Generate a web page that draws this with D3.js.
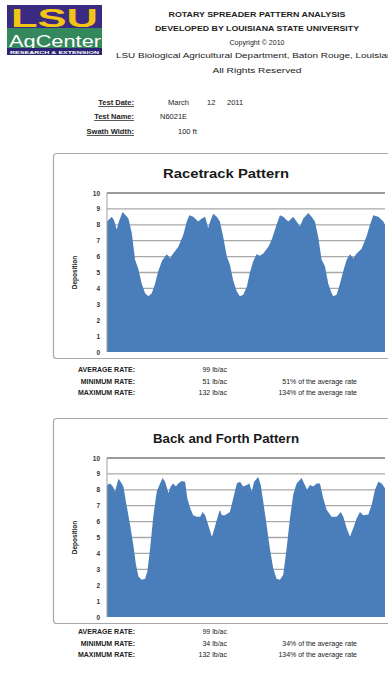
<!DOCTYPE html>
<html><head><meta charset="utf-8">
<script src="https://cdn.jsdelivr.net/npm/d3@7"></script>
<style>
html,body{margin:0;padding:0;background:#fff;}
svg{display:block;}
text{font-family:"Liberation Sans",Arial,sans-serif;}
</style></head>
<body>
<svg id="c" width="388" height="673"></svg>
<script>
// ---------------- data ----------------
const headerLines = [
  "ROTARY SPREADER PATTERN ANALYSIS",
  "DEVELOPED BY LOUISIANA STATE UNIVERSITY",
  "Copyright \u00A9 2010",
  "LSU Biological Agricultural Department, Baton Rouge, Louisiana",
  "All Rights Reserved"
];
const infoLabels = ["Test Date:", "Test Name:", "Swath Width:"];
const testDate = ["March", "12", "2011"];
const testName = "N6021E";
const swathWidth = "100 ft";

const yTicks = [0,1,2,3,4,5,6,7,8,9,10];
const rateLabels = ["AVERAGE RATE:", "MINIMUM RATE:", "MAXIMUM RATE:"];

// Racetrack pattern (position across plot 0-100, deposition)
const raceTitle = "Racetrack Pattern";
const racePos = [0,1.7,2.5,3.5,4.3,5.6,6.7,7.7,8.9,10.1,11.3,12.5,13.7,14.9,16.1,17.3,18.3,19.7,20.9,21.5,22.7,23.8,25.6,27.4,28.7,29.6,31.0,32.8,34.1,35.3,36.4,37.1,38.2,39.5,40.6,41.8,43.1,44.2,45.4,46.7,47.8,49.0,50.3,51.4,52.6,53.8,55.0,56.2,58.0,59.2,61.0,62.2,63.4,65.2,67.0,68.2,69.4,70.6,72.4,73.6,74.8,76.0,77.2,78.4,79.6,80.8,81.4,82.6,83.8,85.0,86.2,87.4,88.6,89.8,91.6,93.4,94.6,95.8,97.6,99.4,100];
const raceDep = [8.2,8.5,8.3,7.7,8.2,8.8,8.6,8.4,7.5,5.8,5.2,4.3,3.7,3.5,3.7,4.3,5.0,5.7,6.0,6.15,5.9,6.2,6.6,7.35,8.2,8.6,8.5,8.2,8.4,8.5,7.8,8.2,8.7,8.5,8.2,7.25,6.0,5.5,4.5,3.8,3.5,3.6,4.1,5.0,5.7,6.15,6.05,6.2,6.6,7.05,8.0,8.6,8.5,8.2,8.5,8.2,7.9,8.4,8.75,8.5,8.2,7.2,5.8,5.4,4.3,3.7,3.5,3.6,4.3,5.1,5.8,6.15,5.9,6.2,6.5,7.3,8.0,8.6,8.5,8.2,8.0];
const raceRates = ["99 lb/ac", "51 lb/ac", "132 lb/ac"];
const racePct = ["", "51% of the average rate", "134% of the average rate"];

// Back and forth pattern
const bfTitle = "Back and Forth Pattern";
const bfPos = [0,1.1,2.1,2.9,4.1,4.9,5.9,6.8,8.3,9.5,10.4,11.3,12.5,13.7,14.5,15.5,16.7,17.9,19.1,20.0,20.9,22.1,22.9,23.8,24.8,25.6,26.9,28.1,28.9,29.9,31.0,32.3,33.5,34.4,35.3,36.4,37.7,38.2,39.5,40.6,41.3,42.4,44.2,45.4,46.7,47.8,49.0,50.3,51.2,52.1,52.9,54.4,55.3,56.2,57.4,58.6,59.8,61.0,62.2,63.4,64.6,65.8,67.0,68.2,70.0,71.2,72.0,73.0,74.2,75.4,76.6,77.8,79.0,80.8,82.6,84.1,85.0,86.2,87.4,88.6,89.8,91.0,92.2,94.0,95.2,96.4,97.6,98.8,100];
const bfDep = [8.3,8.4,8.2,7.9,8.7,8.5,8.2,7.25,5.8,4.5,3.3,2.55,2.35,2.4,2.85,4.3,6.4,7.9,8.4,8.75,8.5,7.8,8.2,8.4,8.2,8.4,8.55,8.5,7.45,6.85,6.4,6.3,6.3,6.6,6.4,5.8,5.05,5.3,6.1,6.75,6.4,6.4,6.6,7.45,8.4,8.5,8.2,8.3,8.4,7.9,8.5,8.8,8.3,7.25,5.8,4.3,3.05,2.4,2.35,2.65,4.3,6.2,7.7,8.4,8.75,8.3,8.0,8.3,8.2,8.4,8.4,7.45,6.75,6.3,6.3,6.6,6.3,5.6,5.05,5.6,6.2,6.6,6.4,6.45,7.05,8.0,8.5,8.4,8.1];
const bfRates = ["99 lb/ac", "34 lb/ac", "132 lb/ac"];
const bfPct = ["", "34% of the average rate", "134% of the average rate"];

// ---------------- drawing ----------------
const svg = d3.select("#c");

// Logo
const logo = svg.append("g");
logo.append("rect").attr("x",7).attr("y",5).attr("width",95).attr("height",50).attr("fill","#3b2b80");
logo.append("text").attr("x",11).attr("y",26.5).text("LSU")
  .attr("font-family","'Liberation Sans',Arial,sans-serif").attr("font-weight","bold").attr("font-size",26)
  .attr("textLength",87).attr("lengthAdjust","spacingAndGlyphs").attr("fill","#f2c414");
logo.append("rect").attr("x",7).attr("y",28).attr("width",95).attr("height",20).attr("fill","#35875c");
logo.append("text").attr("x",9).attr("y",47.3).text("AgCenter")
  .attr("font-family","'Liberation Serif',serif").attr("font-size",17)
  .attr("textLength",92).attr("lengthAdjust","spacingAndGlyphs").attr("fill","#fff");
logo.append("rect").attr("x",7).attr("y",48).attr("width",95).attr("height",7).attr("fill","#2c2373");
logo.append("text").attr("x",10).attr("y",53.8).text("RESEARCH & EXTENSION")
  .attr("font-size",4).attr("font-weight","bold").attr("textLength",89).attr("lengthAdjust","spacingAndGlyphs").attr("fill","#fff");

// Header text
const hdrY = [17, 31, 45, 58, 73];
const hdrW = [177, 204, 55, 282, 89];
const hdrBold = [true, true, false, false, false];
const hdrSize = [7.5, 7.5, 7.5, 7.5, 7.5];
svg.append("g").selectAll("text").data(headerLines).join("text")
  .attr("x",257).attr("y",(d,i)=>hdrY[i]).attr("text-anchor","middle")
  .attr("font-size",(d,i)=>hdrSize[i]).attr("font-weight",(d,i)=>hdrBold[i]?"bold":"normal")
  .attr("textLength",(d,i)=>hdrW[i]).attr("lengthAdjust","spacingAndGlyphs")
  .attr("fill","#222").text(d=>d);

// Test info
const infoY = [105, 119, 134];
const info = svg.append("g").attr("font-size",7.5).attr("fill","#222");
info.selectAll("text.lbl").data(infoLabels).join("text").attr("class","lbl")
  .attr("x",134).attr("y",(d,i)=>infoY[i]).attr("text-anchor","end")
  .attr("font-weight","bold").attr("text-decoration","underline").text(d=>d);
const dateX = [168, 207, 227];
info.selectAll("text.dt").data(testDate).join("text").attr("class","dt")
  .attr("x",(d,i)=>dateX[i]).attr("y",infoY[0]).text(d=>d);
info.append("text").attr("x",160).attr("y",infoY[1]).text(testName);
info.append("text").attr("x",178).attr("y",infoY[2]).text(swathWidth);

function drawChart(top, title, pos, dep, rates, pct, rateY, titleW) {
  const g = svg.append("g");
  const boxH = 205;
  g.append("rect").attr("x",53.5).attr("y",top+0.5).attr("width",345).attr("height",boxH)
    .attr("rx",3).attr("fill","#fff").attr("stroke","#a8a8a8").attr("stroke-width",1.2);
  g.append("text").attr("x",226).attr("y",top+25).attr("text-anchor","middle")
    .attr("font-size",13).attr("font-weight","bold").attr("fill","#1a1a1a")
    .attr("textLength",titleW).attr("lengthAdjust","spacingAndGlyphs").text(title);

  const x = d3.scaleLinear().domain([0,100]).range([107,385]);
  const y = d3.scaleLinear().domain([0,10]).range([top+199, top+40]);

  // gridlines
  g.append("g").selectAll("line").data(yTicks.filter(t=>t>0)).join("line")
    .attr("x1",x(0)).attr("x2",x(100)).attr("y1",d=>y(d)).attr("y2",d=>y(d))
    .attr("stroke",d=>d===10?"#9a9a9a":"#a9a9a9").attr("stroke-width",d=>d===10?2:1.3);

  // area
  const pts = pos.map((p,i)=>({p, v:dep[i]}));
  const area = d3.area().x(d=>x(d.p)).y0(y(0)).y1(d=>y(d.v));
  g.append("path").datum(pts).attr("d",area).attr("fill","#4a7ebb");

  // plot border left
  g.append("line").attr("x1",x(0)).attr("x2",x(0)).attr("y1",y(10)).attr("y2",y(0))
    .attr("stroke","#a0a0a0").attr("stroke-width",1);

  // y axis
  const axis = d3.axisLeft(y).tickValues(yTicks).tickSize(0).tickPadding(0).tickFormat(d3.format("d"));
  const ag = g.append("g").attr("transform",`translate(${x(0)-7},0)`).call(axis);
  ag.select(".domain").remove();
  ag.selectAll("text").attr("font-size",6.5).attr("font-weight","bold").attr("fill","#333")
    .attr("font-family","'Liberation Sans',Arial,sans-serif");

  g.append("text").attr("transform",`translate(77,${y(5)}) rotate(-90)`).attr("text-anchor","middle")
    .attr("font-size",6.5).attr("font-weight","bold").attr("fill","#222").text("Deposition");

  // rates
  const r = svg.append("g").attr("font-size",7).attr("fill","#222");
  r.selectAll("text.l").data(rateLabels).join("text").attr("class","l")
    .attr("x",135).attr("y",(d,i)=>rateY[i]).attr("text-anchor","end").attr("font-weight","bold").text(d=>d);
  r.selectAll("text.v").data(rates).join("text").attr("class","v")
    .attr("x",227).attr("y",(d,i)=>rateY[i]).attr("text-anchor","end").text(d=>d);
  r.selectAll("text.p").data(pct).join("text").attr("class","p")
    .attr("x",357).attr("y",(d,i)=>rateY[i]).attr("text-anchor","end").text(d=>d);
}

drawChart(153, raceTitle, racePos, raceDep, raceRates, racePct, [371.5,383.5,395], 126);
drawChart(418, bfTitle, bfPos, bfDep, bfRates, bfPct, [634,645.5,657], 146);
</script>
</body></html>
